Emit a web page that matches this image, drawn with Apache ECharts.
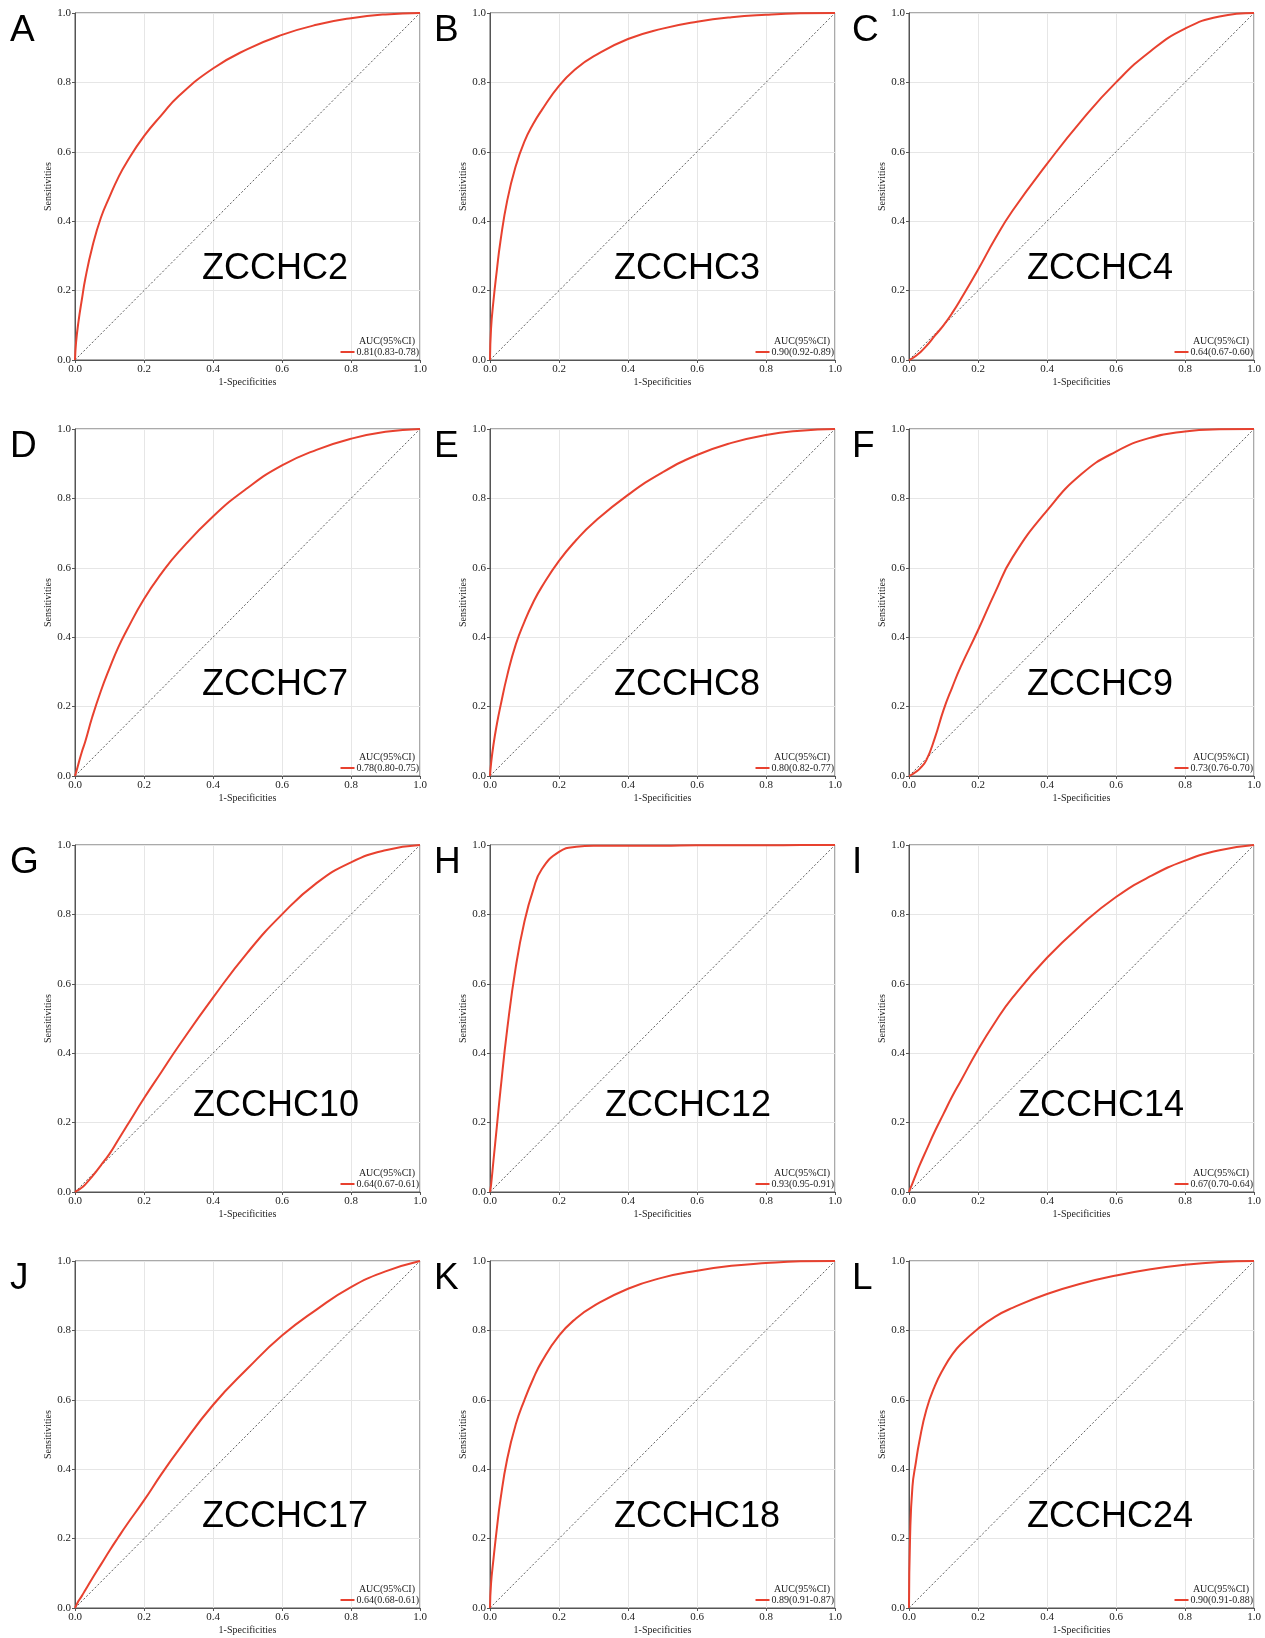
<!DOCTYPE html>
<html>
<head>
<meta charset="utf-8">
<script src="https://cdn.jsdelivr.net/npm/echarts@6/dist/echarts.min.js"></script>
<style>html,body{margin:0;padding:0;background:#fff;}#c{width:1265px;height:1638px;}</style>
</head>
<body>
<div id="c"></div>
<script>
// ---- data ----
const panelLetters = ['A','B','C','D','E','F','G','H','I','J','K','L'];
const genes = ['ZCCHC2','ZCCHC3','ZCCHC4','ZCCHC7','ZCCHC8','ZCCHC9','ZCCHC10','ZCCHC12','ZCCHC14','ZCCHC17','ZCCHC18','ZCCHC24'];
const aucLabels = ['0.81(0.83-0.78)','0.90(0.92-0.89)','0.64(0.67-0.60)','0.78(0.80-0.75)','0.80(0.82-0.77)','0.73(0.76-0.70)','0.64(0.67-0.61)','0.93(0.95-0.91)','0.67(0.70-0.64)','0.64(0.68-0.61)','0.89(0.91-0.87)','0.90(0.91-0.88)'];
const tickValues = [0, 0.2, 0.4, 0.6, 0.8, 1.0];
const fpr = [0, 0.003, 0.01, 0.02, 0.03, 0.05, 0.075, 0.1, 0.125, 0.15, 0.2, 0.25, 0.3, 0.4, 0.5, 0.6, 0.7, 0.8, 0.9, 1];
const tprA = [0, 0.05, 0.11, 0.175, 0.235, 0.325, 0.41, 0.47, 0.525, 0.57, 0.645, 0.705, 0.76, 0.84, 0.896, 0.937, 0.966, 0.985, 0.996, 1];
const tprB = [0, 0.09, 0.17, 0.26, 0.34, 0.46, 0.56, 0.63, 0.68, 0.72, 0.79, 0.84, 0.875, 0.925, 0.955, 0.975, 0.988, 0.995, 0.999, 1];
const tprC = [0, 0.001, 0.005, 0.012, 0.02, 0.04, 0.07, 0.1, 0.135, 0.175, 0.26, 0.35, 0.43, 0.565, 0.69, 0.8, 0.89, 0.955, 0.99, 1];
const tprD = [0, 0.01, 0.035, 0.07, 0.1, 0.17, 0.245, 0.31, 0.37, 0.42, 0.51, 0.583, 0.645, 0.748, 0.83, 0.895, 0.94, 0.972, 0.992, 1];
const tprE = [0, 0.035, 0.09, 0.15, 0.2, 0.29, 0.38, 0.445, 0.5, 0.545, 0.62, 0.68, 0.73, 0.81, 0.875, 0.925, 0.96, 0.983, 0.995, 1];
const tprF = [0, 0.001, 0.005, 0.012, 0.02, 0.045, 0.11, 0.19, 0.255, 0.315, 0.42, 0.53, 0.63, 0.765, 0.87, 0.935, 0.975, 0.993, 0.999, 1];
const tprG = [0, 0.002, 0.006, 0.013, 0.022, 0.045, 0.077, 0.11, 0.15, 0.19, 0.27, 0.345, 0.42, 0.56, 0.69, 0.8, 0.89, 0.95, 0.985, 1];
const tprH = [0, 0.02, 0.09, 0.19, 0.29, 0.47, 0.65, 0.78, 0.87, 0.93, 0.98, 0.995, 0.998, 0.998, 0.998, 0.999, 0.999, 0.999, 1, 1];
const tprI = [0, 0.008, 0.025, 0.05, 0.075, 0.12, 0.175, 0.225, 0.275, 0.32, 0.41, 0.49, 0.56, 0.675, 0.77, 0.85, 0.91, 0.955, 0.985, 1];
const tprJ = [0, 0.006, 0.02, 0.035, 0.052, 0.085, 0.125, 0.165, 0.203, 0.24, 0.31, 0.385, 0.455, 0.585, 0.69, 0.785, 0.86, 0.925, 0.97, 1];
const tprK = [0, 0.07, 0.14, 0.23, 0.31, 0.43, 0.53, 0.6, 0.66, 0.71, 0.785, 0.835, 0.87, 0.92, 0.952, 0.972, 0.986, 0.994, 0.999, 1];
const tprL = [0, 0.2, 0.35, 0.42, 0.48, 0.57, 0.64, 0.69, 0.73, 0.76, 0.805, 0.84, 0.865, 0.905, 0.935, 0.958, 0.976, 0.989, 0.997, 1];
const tprAll = [tprA, tprB, tprC, tprD, tprE, tprF, tprG, tprH, tprI, tprJ, tprK, tprL];

// ---- layout ----
const W = 1265;
const colLeft = [75, 490, 909];
const rowTop = [13, 429, 845, 1261];
const plotW = 345, plotH = 347;
const letterX = [10, 434, 852];
const geneOffX = [127, 124, 118];
const serif = 'Liberation Serif';
const sans = 'Liberation Sans';
const red = '#E8412F';
const frame = '#555';

const grids = [], xAxes = [], yAxes = [], series = [], legends = [], titles = [];
for (let i = 0; i < 12; i++) {
  const r = Math.floor(i / 3), c = i % 3;
  const L = colLeft[c], T = rowTop[r];
  grids.push({left: L, top: T, width: plotW, height: plotH, show: true, borderColor: frame, borderWidth: 1, containLabel: false});
  const axisCommon = {
    type: 'value', gridIndex: i, min: 0, max: 1, interval: 0.2,
    axisLine: {show: true, onZero: false, lineStyle: {color: frame, width: 1}},
    axisTick: {show: true, length: 3, lineStyle: {color: frame}},
    axisLabel: {fontFamily: serif, fontSize: 11, color: '#222', margin: 4,
      formatter: v => (tickValues.some(t => Math.abs(t - v) < 1e-9) ? v.toFixed(1) : '')},
    splitLine: {show: true, lineStyle: {color: '#e6e6e6', width: 1}},
    nameLocation: 'middle',
    nameTextStyle: {fontFamily: serif, fontSize: 10, color: '#222'}
  };
  xAxes.push(Object.assign({}, axisCommon, {name: '1-Specificities', nameGap: 17}));
  yAxes.push(Object.assign({}, axisCommon, {name: 'Sensitivities', nameGap: 19}));
  series.push({
    type: 'line', name: aucLabels[i], xAxisIndex: i, yAxisIndex: i,
    data: fpr.map((x, j) => [x, tprAll[i][j]]),
    smooth: 0.5, symbol: 'none', z: 4,
    lineStyle: {color: red, width: 2}, itemStyle: {color: red}
  });
  series.push({
    type: 'line', name: 'diag' + i, xAxisIndex: i, yAxisIndex: i,
    data: [[0, 0], [1, 1]], symbol: 'none', silent: true, z: 3,
    lineStyle: {color: '#333', width: 0.8, type: [2, 2]}
  });
  legends.push({
    data: [{name: aucLabels[i], icon: 'rect', itemStyle: {color: red}}], selectedMode: false, orient: 'vertical',
    right: W - (L + plotW - 1), top: T + plotH - 13, padding: 0,
    itemWidth: 14, itemHeight: 2, itemGap: 0,
    textStyle: {fontFamily: serif, fontSize: 10, color: '#222', padding: [0, 0, 0, -3]}
  });
  titles.push({
    text: 'AUC(95%CI)', right: W - (L + plotW - 5), top: T + plotH - 24, padding: 0,
    textStyle: {fontFamily: serif, fontSize: 10, fontWeight: 'normal', color: '#222'}
  });
  titles.push({
    text: genes[i], left: L + geneOffX[c] - (r === 2 ? 9 : 0), top: T + 238 + (r === 2 ? 5 : 0), padding: 0,
    textStyle: {fontFamily: sans, fontSize: 36, fontWeight: 'normal', color: '#000'}
  });
  titles.push({
    text: panelLetters[i], left: letterX[c], top: T - 1, padding: 0,
    textStyle: {fontFamily: sans, fontSize: 37, fontWeight: 'normal', color: '#000'}
  });
}

const chart = echarts.init(document.getElementById('c'), null, {renderer: 'canvas', width: 1265, height: 1638});
chart.setOption({
  animation: false,
  backgroundColor: '#fff',
  grid: grids, xAxis: xAxes, yAxis: yAxes, series: series, legend: legends, title: titles
});
</script>
</body>
</html>
